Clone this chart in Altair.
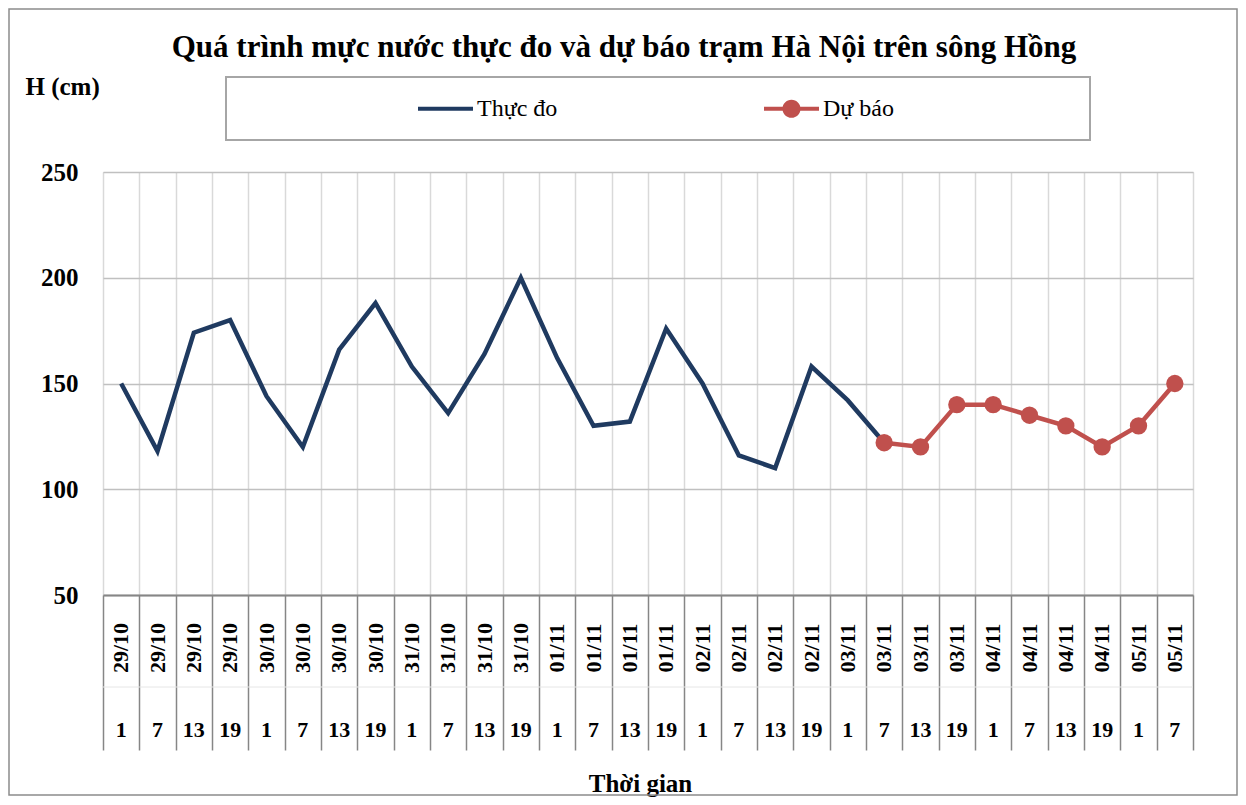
import altair as alt
import pandas as pd

# ---- data -------------------------------------------------------------
dates = (["29/10"] * 4 + ["30/10"] * 4 + ["31/10"] * 4 + ["01/11"] * 4 +
         ["02/11"] * 4 + ["03/11"] * 4 + ["04/11"] * 4 + ["05/11"] * 2)
hours = ["1", "7", "13", "19"] * 7 + ["1", "7"]

# Thực đo: 29/10 1h ... 03/11 7h
observed = [150, 118, 174, 180, 144, 120, 166, 188, 158, 136, 164, 200,
            162, 130, 132, 176, 150, 116, 110, 158, 142, 122]
# Dự báo: 03/11 7h ... 05/11 7h
forecast = [122, 120, 140, 140, 135, 130, 120, 130, 150]

series_names = ["Thực đo", "Dự báo"]
series_colors = ["#1f3a60", "#c0504d"]

keys = [f"{d} {h}" for d, h in zip(dates, hours)]
n_obs = len(observed)
fc_start = len(keys) - len(forecast)

df_obs = pd.DataFrame({"key": keys[:n_obs], "value": observed, "series": series_names[0]})
df_fc = pd.DataFrame({"key": keys[fc_start:], "value": forecast, "series": series_names[1]})
df_all = pd.concat([df_obs, df_fc], ignore_index=True)
df_lab = pd.DataFrame({"key": keys, "date": dates, "hour": hours})

FONT = "Liberation Serif"
W, H = 1090, 423

# ---- shared encodings --------------------------------------------------
x_enc = alt.X(
    "key:O", sort=keys, bandPosition=0.5,
    scale=alt.Scale(type="band", domain=keys, paddingInner=0, paddingOuter=0),
    axis=alt.Axis(
        title="Thời gian", labels=False, grid=True, tickBand="extent",
        gridColor="#d9d9d9", gridWidth=1.5,
        ticks=True, tickSize=155, tickColor="#868686", tickWidth=1.5,
        domainColor="#868686", domainWidth=2,
        titleFont=FONT, titleFontSize=25, titleFontWeight="bold", titleColor="black",
        titleX=537, titleY=188, titleAlign="center", titleBaseline="middle",
    ),
)
y_enc = alt.Y(
    "value:Q",
    scale=alt.Scale(domain=[50, 250], nice=False, zero=False),
    axis=alt.Axis(
        title="H (cm)", values=[50, 100, 150, 200, 250],
        ticks=False, domain=False, grid=True,
        gridColor="#c0c0c0", gridWidth=1.5,
        labelFont=FONT, labelFontSize=25, labelFontWeight="bold", labelColor="black",
        labelPadding=25,
        titleFont=FONT, titleFontSize=25, titleFontWeight="bold", titleColor="black",
        titleAngle=0, titleX=-78, titleY=-86, titleAlign="left", titleBaseline="middle",
    ),
)
color_scale = alt.Scale(domain=series_names, range=series_colors)

line_sym = "M-1,-0.075L1,-0.075L1,0.075L-1,0.075Z"
dot_sym = line_sym + " M0.33,0 A0.33,0.33 0 1,1 -0.33,0 A0.33,0.33 0 1,1 0.33,0 Z"

legend_def = alt.Legend(
    title=None, orient="none", legendX=315, legendY=-91,
    direction="horizontal", padding=0,
    symbolSize=3025, symbolStrokeWidth=0, symbolOpacity=1,
    labelFont=FONT, labelFontSize=24, labelFontWeight="normal",
    labelColor="black", labelOffset=4, columnPadding=206,
)

# ---- decoration --------------------------------------------------------
one = alt.Data(values=[{}])
outer_box = alt.Chart(one).mark_rect(
    fillOpacity=0, stroke="#8c8c8c", strokeWidth=1.5
).encode(x=alt.value(-94), x2=alt.value(1134), y=alt.value(-163), y2=alt.value(623))

legend_box = alt.Chart(one).mark_rect(
    fillOpacity=0, stroke="#a6a6a6", strokeWidth=2
).encode(x=alt.value(123), x2=alt.value(987), y=alt.value(-95), y2=alt.value(-32))

separator = alt.Chart(one).mark_rule(color="#e6e6e6", strokeWidth=1).encode(
    x=alt.value(0), x2=alt.value(W), y=alt.value(515)
)

# ---- data marks --------------------------------------------------------
obs_line = alt.Chart(df_obs).mark_line(
    strokeWidth=4.5, strokeJoin="miter", color=series_colors[0]
).encode(x=x_enc, y=y_enc)

fc_line = alt.Chart(df_fc).mark_line(
    strokeWidth=4.5, strokeJoin="miter", color=series_colors[1]
).encode(x=x_enc, y=y_enc)

fc_points = alt.Chart(df_fc).mark_point(
    filled=True, size=300, opacity=1, color=series_colors[1]
).encode(x=x_enc, y=y_enc)

# legend only (no rows drawn); symbols come from the series scales
legend_layer = alt.Chart(df_all).transform_filter("false").mark_point(
    filled=True, opacity=1
).encode(
    x=x_enc, y=y_enc,
    color=alt.Color("series:N", scale=color_scale, legend=legend_def),
    shape=alt.Shape(
        "series:N",
        scale=alt.Scale(domain=series_names, range=[line_sym, dot_sym]),
        legend=legend_def,
    ),
)

date_labels = alt.Chart(df_lab).mark_text(
    angle=270, align="center", baseline="middle",
    font=FONT, fontSize=22, fontWeight="bold", color="black",
).encode(x=x_enc, y=alt.value(476), text="date:N")

hour_labels = alt.Chart(df_lab).mark_text(
    align="center", baseline="middle",
    font=FONT, fontSize=22, fontWeight="bold", color="black",
).encode(x=x_enc, y=alt.value(558), text="hour:N")

chart = alt.layer(
    outer_box, legend_box, separator, obs_line, fc_line, fc_points, legend_layer,
    date_labels, hour_labels,
).properties(
    width=W, height=H,
    title=alt.Title(
        "Quá trình mực nước thực đo và dự báo trạm Hà Nội trên sông Hồng",
        font=FONT, fontSize=31, fontWeight="bold", color="black",
        anchor="middle", dx=-24, dy=60,
    ),
    autosize=alt.AutoSizeParams(type="none"),
    padding={"left": 95, "top": 164, "right": 45, "bottom": 202},
).configure_view(
    stroke="#c0c0c0", strokeWidth=1.5
).configure(background="white")

chart.save("out.html", embed_options={"renderer": "svg", "actions": False})
